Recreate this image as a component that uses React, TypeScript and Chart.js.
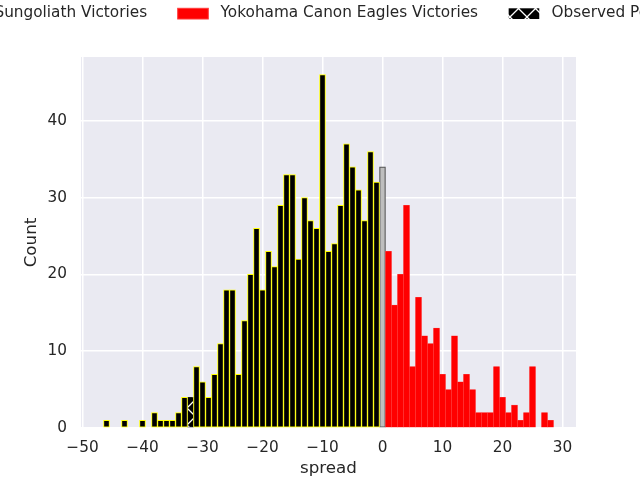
import React, { useEffect, useRef } from "react";
import { Chart, registerables } from "chart.js";

Chart.register(...registerables);

// ---- data ----
const sungoliathSpread = [-46, -43, -40, -38, -37, -36, -35, -34, -33, -31, -30, -29, -28, -27, -26, -25, -24, -23, -22, -21, -20, -19, -18, -17, -16, -15, -14, -13, -12, -11, -10, -9, -8, -7, -6, -5, -4, -3, -2, -1];
const sungoliathCounts = [1, 1, 1, 2, 1, 1, 1, 2, 4, 8, 6, 4, 7, 11, 18, 18, 7, 14, 20, 26, 18, 23, 21, 29, 33, 33, 22, 30, 27, 26, 46, 23, 24, 29, 37, 34, 31, 27, 36, 32];
const observedSpread = [-32];
const observedCounts = [4];
const drawSpread = [0];
const drawCounts = [34];
const eaglesSpread = [1, 2, 3, 4, 5, 6, 7, 8, 9, 10, 11, 12, 13, 14, 15, 16, 17, 18, 19, 20, 21, 22, 23, 24, 25, 27, 28];
const eaglesCounts = [23, 16, 20, 29, 8, 17, 12, 11, 13, 7, 5, 12, 6, 7, 5, 2, 2, 2, 8, 4, 2, 3, 1, 2, 8, 2, 1];
const xTicks = [-50, -40, -30, -20, -10, 0, 10, 20, 30];
const yTicks = [0, 10, 20, 30, 40];
const legendLabels = ["Tokyo Sungoliath Victories", "Yokohama Canon Eagles Victories", "Observed Point"];
const xAxisTitle = "spread";
const yAxisTitle = "Count";

const FONT = '"DejaVu Sans", "Liberation Sans", sans-serif';
const TEXT_COLOR = "#262626";

function pts(xs: number[], ys: number[]) {
  return xs.map((x, i) => ({ x, y: ys[i] }));
}

function makeHatch(): CanvasPattern | string {
  const size = 17;
  const c = document.createElement("canvas");
  c.width = size;
  c.height = size;
  const g = c.getContext("2d");
  if (!g) return "#000";
  g.fillStyle = "#000";
  g.fillRect(0, 0, size, size);
  g.strokeStyle = "#fff";
  g.lineWidth = 1.3;
  g.beginPath();
  g.moveTo(-2, size + 2);
  g.lineTo(size + 2, -2);
  g.moveTo(-2, 2);
  g.lineTo(2, -2);
  g.moveTo(size - 2, size + 2);
  g.lineTo(size + 2, size - 2);
  g.moveTo(-2, -2);
  g.lineTo(size + 2, size + 2);
  g.moveTo(size - 2, -2);
  g.lineTo(size + 2, 2);
  g.moveTo(-2, size - 2);
  g.lineTo(2, size + 2);
  g.stroke();
  return g.createPattern(c, "repeat") || "#000";
}

const bgPlugin = {
  id: "axesBg",
  beforeDraw(chart: any) {
    const { ctx, chartArea } = chart;
    ctx.save();
    ctx.fillStyle = "#EAEAF2";
    ctx.fillRect(chartArea.left, chartArea.top, chartArea.right - chartArea.left, chartArea.bottom - chartArea.top);
    ctx.restore();
  },
};

const legendPlugin = {
  id: "mplLegend",
  afterDraw(chart: any) {
    const ctx = chart.ctx;
    const fs = 15.3;
    const handleW = 2 * fs;
    const handleH = 0.7 * fs;
    const textPad = 0.8 * fs;
    const colSp = 2 * fs;
    const items = chart.data.datasets.filter((d: any) => d.legendLabel);
    ctx.save();
    ctx.font = `${fs}px ${FONT}`;
    const widths = items.map((d: any) => ctx.measureText(d.legendLabel).width);
    // second item anchored where the reference shows it
    let x = 177.7 - (handleW + textPad + widths[0] + colSp);
    const baseY = 16.7;
    const patchTop = 8.3;
    items.forEach((d: any, i: number) => {
      ctx.fillStyle = d.backgroundColor;
      ctx.fillRect(x, patchTop, handleW, handleH);
      if (d.legendEdge) {
        ctx.strokeStyle = d.legendEdge;
        ctx.lineWidth = 1;
        ctx.strokeRect(x, patchTop, handleW, handleH);
      }
      ctx.fillStyle = TEXT_COLOR;
      ctx.textBaseline = "alphabetic";
      ctx.textAlign = "left";
      ctx.fillText(d.legendLabel, x + handleW + textPad, baseY);
      x += handleW + textPad + widths[i] + colSp;
    });
    ctx.restore();
  },
};

export default function App() {
  const ref = useRef<HTMLCanvasElement | null>(null);

  useEffect(() => {
    if (!ref.current) return;
    const hatch = makeHatch();
    const chart = new Chart(ref.current, {
      type: "bar",
      data: {
        datasets: [
          {
            label: legendLabels[0],
            legendLabel: legendLabels[0],
            legendEdge: "#ffff00",
            data: pts(sungoliathSpread, sungoliathCounts),
            backgroundColor: "#000000",
            borderColor: "#ffff00",
            borderWidth: 1,
          },
          {
            label: legendLabels[1],
            legendLabel: legendLabels[1],
            legendEdge: "#ff3a3a",
            data: pts(eaglesSpread, eaglesCounts),
            backgroundColor: "#ff0000",
            borderColor: "#ff3a3a",
            borderWidth: 0.5,
          },
          {
            label: legendLabels[2],
            legendLabel: legendLabels[2],
            data: pts(observedSpread, observedCounts),
            backgroundColor: hatch,
            borderColor: "#222222",
            borderWidth: 0.75,
          },
          {
            label: "Draw",
            data: pts(drawSpread, drawCounts),
            backgroundColor: "#bebebe",
            borderColor: "#555555",
            borderWidth: 1.2,
          },
        ] as any,
      },
      options: {
        animation: false,
        responsive: false,
        devicePixelRatio: 1,
        layout: { padding: { top: 57, right: 64, bottom: 0, left: 0 } },
        datasets: {
          bar: {
            grouped: false,
            barPercentage: 1,
            categoryPercentage: 1,
            borderSkipped: false,
          },
        } as any,
        plugins: {
          legend: { display: false },
          tooltip: { enabled: false },
        },
        scales: {
          x: {
            type: "linear",
            min: -50.25,
            max: 32.25,
            offset: false,
            grid: { color: "#ffffff", lineWidth: 1.5, drawTicks: false, offset: false },
            border: { display: false },
            ticks: {
              color: TEXT_COLOR,
              font: { family: FONT, size: 15.3 },
              padding: 11,
              maxRotation: 0,
              callback: (v: any) => String(v).replace("-", "\u2212"),
            },
            title: {
              display: true,
              text: xAxisTitle,
              color: TEXT_COLOR,
              font: { family: FONT, size: 16.7 },
              padding: { top: 0, bottom: 1 },
            },
            afterBuildTicks: (s: any) => {
              s.ticks = xTicks.map((v) => ({ value: v }));
            },
            afterFit: (s: any) => {
              s.height = 52;
              s.paddingLeft = 0;
              s.paddingRight = 0;
            },
          },
          y: {
            type: "linear",
            min: 0,
            max: 48.3,
            grid: { color: "#ffffff", lineWidth: 1.5, drawTicks: false },
            border: { display: false },
            ticks: {
              color: TEXT_COLOR,
              font: { family: FONT, size: 15.3 },
              padding: 14,
            },
            title: {
              display: true,
              text: yAxisTitle,
              color: TEXT_COLOR,
              font: { family: FONT, size: 16.7 },
              padding: { top: 22, bottom: 0 },
            },
            afterBuildTicks: (s: any) => {
              s.ticks = yTicks.map((v) => ({ value: v }));
            },
            afterFit: (s: any) => {
              s.width = 81;
              s.paddingTop = 0;
              s.paddingBottom = 0;
            },
          },
        },
      },
      plugins: [bgPlugin, legendPlugin],
    } as any);
    return () => chart.destroy();
  }, []);

  return (
    <div style={{ position: "absolute", left: 0, top: 0, width: 640, height: 480, background: "#fff" }}>
      <canvas ref={ref} width={640} height={480} style={{ display: "block" }} />
    </div>
  );
}
